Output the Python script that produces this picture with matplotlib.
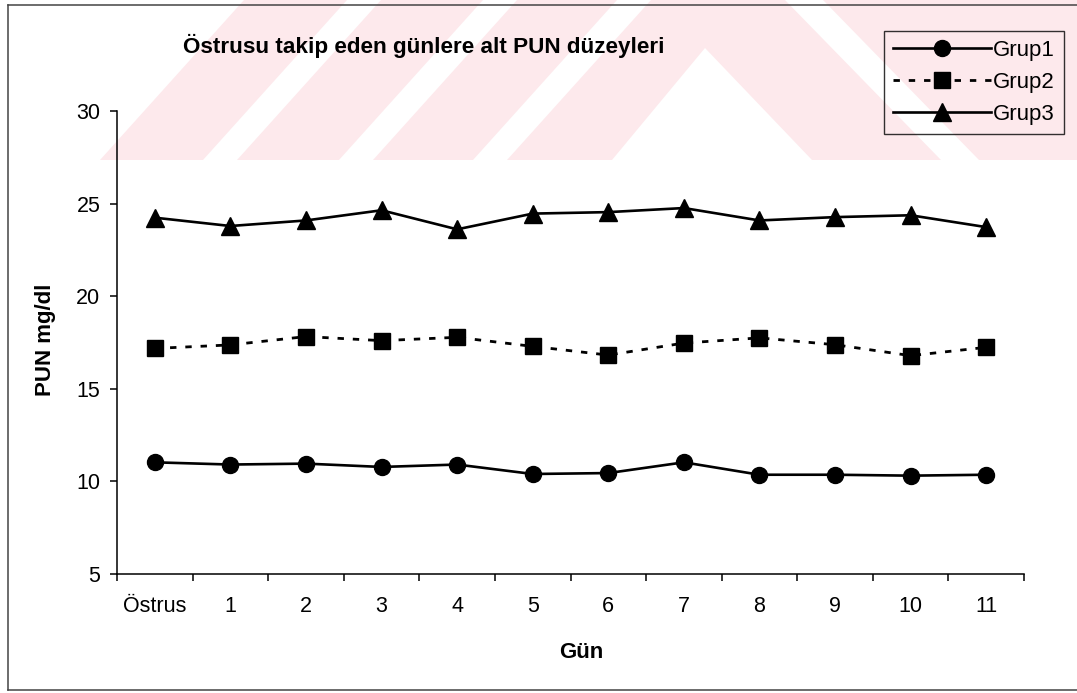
import matplotlib
matplotlib.use('Agg')
import matplotlib.pyplot as plt
from matplotlib.patches import Polygon
from matplotlib.lines import Line2D
import numpy as np

plt.rcParams['font.family'] = ['Liberation Sans', 'DejaVu Sans']

# PUN değerleri (mg/dl), östrustan sonraki günler
gunler = ['Östrus', '1', '2', '3', '4', '5', '6', '7', '8', '9', '10', '11']
grup1 = [11.03, 10.91, 10.96, 10.78, 10.91, 10.40, 10.45, 11.03, 10.36, 10.36, 10.31, 10.36]
grup2 = [17.18, 17.37, 17.82, 17.60, 17.78, 17.29, 16.82, 17.47, 17.75, 17.38, 16.79, 17.24]
grup3 = [24.24, 23.79, 24.09, 24.64, 23.61, 24.46, 24.54, 24.76, 24.09, 24.27, 24.37, 23.73]
y_ticks = [5, 10, 15, 20, 25, 30]

W, H = 1077, 693
fig = plt.figure(figsize=(W / 100, H / 100), dpi=100)
fig.patch.set_facecolor('white')

# arka plan: pembe filigran + çerçeve (piksel koordinatlarında)
bg = fig.add_axes([0, 0, 1, 1], zorder=0)
bg.set_xlim(0, W)
bg.set_ylim(H, 0)
bg.axis('off')
pink = '#fde9ec'
s = 144
for a, b in [(100, 203), (237, 339), (373, 473)]:
    bg.add_patch(Polygon([(a, 160), (b, 160), (b + s, 0), (a + s, 0)],
                         closed=True, fc=pink, ec='none'))
bg.add_patch(Polygon([(507, 160), (612, 160), (705, 48), (812, 160), (941, 160),
                      (785, 0), (651, 0)], closed=True, fc=pink, ec='none'))
bg.add_patch(Polygon([(979, 160), (W, 160), (W, 0), (823, 0)],
                     closed=True, fc=pink, ec='none'))
frame_kw = dict(color='#444444', lw=1.1)
bg.add_line(Line2D([7.5, W], [5, 5], **frame_kw))
bg.add_line(Line2D([7.5, 7.5], [5, 690], **frame_kw))
bg.add_line(Line2D([7.5, W], [690, 690], **frame_kw))

# grafik alanı
ax = fig.add_axes([117 / W, 1 - 574 / H, (1024 - 117) / W, (574 - 111) / H], zorder=1)
ax.patch.set_visible(False)

x = np.arange(len(gunler))
ax.plot(x, grup1, color='black', lw=1.9, marker='o', ms=11.5, label='Grup1')
ax.plot(x, grup2, color='black', lw=2.0, marker='s', ms=12,
        dashes=(2.3, 3.2), label='Grup2')
ax.plot(x, grup3, color='black', lw=1.9, marker='^', ms=12.5, label='Grup3')

ax.set_xlim(-0.5, len(gunler) - 0.5)
ax.set_ylim(5, 30)
ax.set_yticks(y_ticks)
ax.set_xticks(np.arange(-0.5, len(gunler), 1))
ax.set_xticklabels([])
ax.set_xticks(x, minor=True)
ax.set_xticklabels(gunler, minor=True)
ax.tick_params(axis='x', which='major', direction='out', length=5, width=1.1)
ax.tick_params(axis='x', which='minor', length=0, pad=16, labelsize=15.5)
ax.tick_params(axis='y', direction='out', length=5, width=1.1, pad=7, labelsize=15.5)
for side in ['top', 'right']:
    ax.spines[side].set_visible(False)
for side in ['left', 'bottom']:
    ax.spines[side].set_linewidth(1.1)

fig.text(183 / W, 1 - 46 / H, 'Östrusu takip eden günlere alt PUN düzeyleri',
         ha='left', va='center', fontsize=16.2, fontweight='bold')
fig.text(45 / W, 1 - 340 / H, 'PUN mg/dl', rotation=90, ha='center', va='center',
         fontsize=16, fontweight='bold')
fig.text(581 / W, 1 - 653 / H, 'Gün', ha='center', va='center',
         fontsize=16, fontweight='bold')

leg = ax.legend(loc='upper left', bbox_to_anchor=(884 / W, 1 - 31 / H),
                bbox_transform=fig.transFigure, borderaxespad=0, numpoints=1,
                handlelength=4.4, handletextpad=0.1, labelspacing=0.5,
                borderpad=0.4, fontsize=16, fancybox=False, facecolor='none')
leg.get_frame().set_edgecolor('black')
leg.get_frame().set_linewidth(1.0)

fig.savefig('out.png', dpi=100)
